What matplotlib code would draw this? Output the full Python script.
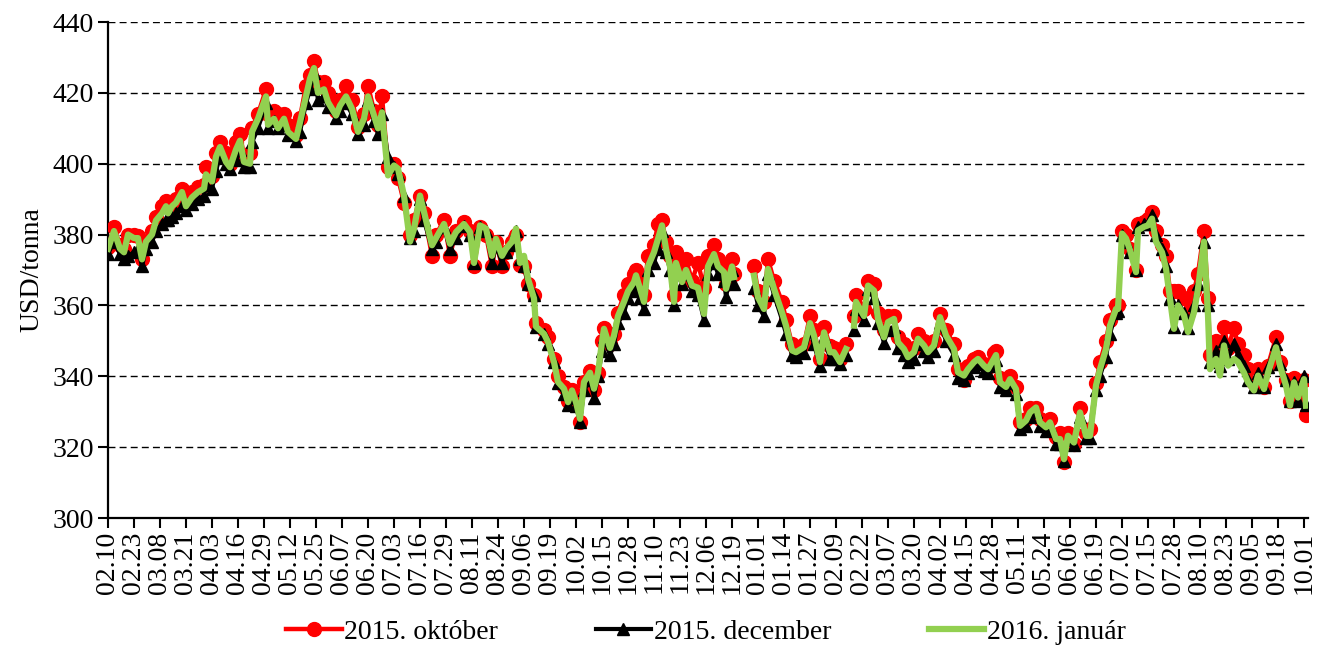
import numpy as np
import pandas as pd
import matplotlib
matplotlib.use("Agg")
import matplotlib.pyplot as plt

# ---------------- data ----------------
start_date = "2014-02-10"

day_offset = [
    0, 3, 6, 8, 10, 13, 15, 17, 19, 22, 24, 27, 29, 30, 32, 34, 37, 39, 42, 45,
    48, 49, 52, 54, 56, 59, 61, 64, 66, 68, 71, 72, 75, 79, 80, 83, 85, 88, 90, 94,
    96, 99, 101, 103, 105, 108, 110, 114, 116, 119, 122, 125, 128, 130, 133, 135, 137, 140, 143, 145,
    148, 151, 153, 156, 158, 162, 164, 168, 171, 174, 178, 181, 183, 186, 189, 192, 194, 197, 199, 202,
    204, 206, 208, 210, 213, 214, 218, 220, 223, 225, 228, 230, 232, 234, 236, 238, 241, 243, 245, 247,
    248, 251, 253, 255, 258, 260, 263, 264, 266, 268, 270, 273, 275, 277, 279, 281, 283, 284, 287, 289,
    292, 295, 298, 300, 303, 305, 308, 309, 312, 313, 317, 323, 325, 328, 330, 333, 337, 339, 342, 344,
    348, 351, 353, 356, 358, 361, 363, 366, 369, 371, 373, 374, 378, 380, 383, 385, 388, 390, 393, 395,
    398, 400, 403, 405, 408, 410, 413, 416, 419, 423, 425, 428, 430, 433, 435, 438, 440, 443, 444, 446,
    449, 451, 454, 456, 459, 461, 464, 466, 469, 471, 474, 476, 478, 480, 483, 486, 489, 491, 494, 496,
    499, 501, 504, 505, 507, 509, 511, 514, 515, 518, 520, 522, 524, 527, 529, 531, 533, 535, 538, 540,
    543, 545, 548, 550, 551, 554, 556, 558, 560, 563, 565, 568, 570, 573, 575, 578, 580, 584, 586, 589,
    591, 593, 595, 598, 599,
]

nan = np.nan

okt_2015 = [
    376.5, 382, 377, 376, 380, 380, 379.5, 373, 378, 381, 385, 388, 389.5, 388, 389, 390, 393, 389, 392, 393.5,
    394, 399, 396.5, 403, 406, 403, 400, 406, 408.5, 402, 403, 410, 414, 421, 414, 415, 414, 414, 411, 408,
    413, 422, 425, 429, 423, 423, 420, 415, 418, 422, 418, 410.5, 414, 422, 415, 411, 419, 399, 400, 396,
    389, 380, 384, 391, 386, 374, 380, 384, 374, 381, 383.5, 381, 371, 382, 380, 371, 378, 371, 375, 378,
    380, 371.5, 371, 366, 363, 355, 353, 351, 345, 340, 337, 333, 336, 333.5, 327, 338.5, 341.5, 336, 341, 350,
    353.5, 349, 352, 358, 363, 366, 369, 370, 367, 363, 374, 377, 383, 384, 378, 374, 363, 375, 370, 373,
    367, 372, 365, 374, 377, 373, 371, 366, 373, 369, nan, 371, 364, 361, 373, 367, 361, 356, 349, 347.5,
    349, 357, 353, 345, 354, 348.5, 348, 345, 349, nan, 357, 363, 359, 367, 366, 358, 353, 357, 357, 351,
    349, 346, 348, 352, 350, 348, 350, 357.5, 353, 349, 342, 339, 343, 345, 345.5, 343.5, 342.5, 346.5, 347, 339.5,
    338, 340, 337, 327, 328, 331, 331, 328, 326, 328, 323, 324, 315.7, 324, 321, 331, 324, 325, 338, 344,
    350, 356, 360, 360, 381, 380, 376, 370, 383, 383.5, 384.5, 386.5, 381, 377, 374, 364, 364, 364, 362, 358,
    364, 369, 381, 362, 346, 350, 346, 354, 348, 353.5, 349, 346, 342, 338, 342, 337, 343, 351, 344, 339,
    333, 339.5, 334.5, 339, 329,
]

dec_2015 = [
    374.5, 378, 374.5, 373, 374, 375, 376, 371, 376, 378, 381, 383, 384, 384, 385, 386, 388, 387, 388.5, 390,
    391, 394, 393, 398, 402, 400, 398.5, 401, 404, 399, 399, 406, 410, 417, 410, 412, 410, 411, 408, 406.5,
    409, 417, 421, 425.5, 418, 419, 416, 413, 415, 417, 414, 408.5, 411, 418, 412, 408.5, 414, 402, 399, 397,
    391, 379, 381, 390, 384, 376, 378, 382, 376, 379, 382.5, 380, 372, 382, 381, 372, 377, 372, 375, 377,
    381, 373, 371, 366, 363, 354, 352, 349, 344, 338, 335, 332, 334, 331.5, 327, 336, 339, 334, 340, 347,
    351, 346, 349, 355, 358, 362, 364, 366, 362, 359, 370, 372, 376, 381, 375, 370, 360, 370, 366, 369,
    364, 363, 356, 369, 372, 369, 367, 362.5, 370, 366, nan, 365, 360, 357, 369, 363, 356, 352, 346, 345.5,
    346.5, 353, 349, 343, 351, 345, 345, 343.5, 346, nan, 353, 359, 356, 364.5, 362, 355, 349.5, 353, 354, 348,
    346, 344, 345, 349, 347, 345.5, 347, 355, 350, 346, 339.5, 339, 341, 342.5, 343.5, 341.5, 341, 343, 344.5, 337,
    336, 338, 335, 325, 326, 328.5, 330, 326, 324.5, 326, 321, 321, 316, 322, 320.5, 328.5, 322.5, 322.5, 336, 340,
    345.5, 352, 358, 358.5, 380, 378, 375, 370, 382, 383, 383, 385.5, 380, 376, 371, 362, 354, 360, 358, 353.5,
    360, 366, 378, 360, 344, 347, 343, 350, 345, 349, 346, 343, 339, 337, 341, 337, 342.5, 349, 343.5, 339,
    333, 338.5, 333, 340, 332,
]

jan_2016 = [
    376, 381, 376, 375, 380, 379, 379, 373, 378, 380, 384, 386, 388, 386, 388, 389, 392, 388, 390.5, 392,
    393, 397, 395, 402, 404.7, 400.5, 399, 404, 406.5, 400.5, 400, 409, 412.7, 419, 411, 412.7, 410, 412.7, 409, 407,
    411.7, 419, 424, 427, 420, 421, 417.4, 413.6, 416.4, 419, 415.5, 409, 412.7, 419, 413.6, 410, 414.5, 396.7, 399.5, 398.6,
    391, 378, 381.6, 391, 386.4, 377, 379, 383, 377.4, 380.7, 383, 380.7, 372, 382.6, 381.7, 374, 378.8, 374, 376, 378,
    381.7, 372, 374, 367.5, 362, 354, 352, 349.7, 344, 338.4, 336.5, 332.7, 336, 332.7, 328, 338.4, 341, 336.5, 341, 349.7,
    353.4, 348, 351.5, 357, 361, 364, 366.6, 368.5, 364.7, 361, 371, 375, 378.8, 382.6, 376, 371, 361, 372, 366.6, 370,
    365.6, 365, 357.6, 371, 374.5, 371, 369.4, 364.7, 371, 368, nan, 368.4, 362.3, 359, 370.3, 364.7, 358, 354.3, 347.3, 346.8,
    348.2, 355, 351.5, 344, 352.4, 346.8, 346.8, 344, 347.7, nan, 354.3, 361, 357, 365.6, 364.2, 356.2, 351, 355.3, 356.2, 349.6,
    347.7, 345.4, 346.8, 350.6, 348.7, 346.8, 348.7, 356.7, 351.5, 347.7, 341.1, 340.2, 342, 344, 344.9, 343, 342, 345, 346, 338.3,
    337, 339.2, 336.4, 326, 327.5, 329.8, 331.2, 327, 325.6, 327, 322.3, 322.3, 316.6, 323.2, 321.3, 329.8, 323.2, 323.2, 337.4, 342,
    347.7, 354.3, 359, 359, 380.3, 378.9, 375.6, 369.4, 381.2, 382.2, 382.6, 384.5, 378, 375, 370.4, 361.9, 353.4, 360, 357.2, 352.5,
    358.1, 364.7, 378, 357.2, 342, 344.9, 340.2, 348.7, 343, 344.9, 344, 341, 338.3, 336, 340.2, 336.4, 341, 348.2, 343, 337.4,
    331.7, 338.3, 334, 339.2, 331.7,
]

series_names = ["2015. október", "2015. december", "2016. január"]

tick_labels = [
    "02.10", "02.23", "03.08", "03.21", "04.03", "04.16", "04.29", "05.12", "05.25", "06.07",
    "06.20", "07.03", "07.16", "07.29", "08.11", "08.24", "09.06", "09.19", "10.02", "10.15",
    "10.28", "11.10", "11.23", "12.06", "12.19", "01.01", "01.14", "01.27", "02.09", "02.22",
    "03.07", "03.20", "04.02", "04.15", "04.28", "05.11", "05.24", "06.06", "06.19", "07.02",
    "07.15", "07.28", "08.10", "08.23", "09.05", "09.18", "10.01",
]
y_label = "USD/tonna"

# ---------------- figure ----------------
plt.rcParams["font.family"] = ["Liberation Serif", "DejaVu Serif"]

fig = plt.figure(figsize=(13.23, 6.48), dpi=100)
ax = fig.add_axes([108 / 1323, 1 - 518 / 648, (1308 - 108) / 1323, (518 - 22) / 648])

start = pd.Timestamp(start_date)
dates = start + pd.to_timedelta(day_offset, unit="D")

ax.plot(dates, np.array(okt_2015, float), color="#FF0000", lw=3.2, marker="o",
        ms=10, mec="#FF0000", mfc="#FF0000", label=series_names[0], zorder=3)
ax.plot(dates, np.array(dec_2015, float), color="black", lw=3.0, marker="^",
        ms=9, mec="black", mfc="black", label=series_names[1], zorder=4)
ax.plot(dates, np.array(jan_2016, float), color="#92D050", lw=4.5,
        label=series_names[2], zorder=5)

ticks = pd.date_range(start, periods=len(tick_labels), freq="13D")
ax.set_xticks(ticks)
ax.set_xticklabels(tick_labels, rotation=90)
ax.set_xlim(start, start + pd.Timedelta(days=600))

ax.set_ylim(300, 440)
ax.set_yticks(np.arange(300, 441, 20))
ax.yaxis.grid(True, linestyle=(0, (5, 3)), color="black", linewidth=1.0)
ax.set_axisbelow(True)

for s in ["top", "right"]:
    ax.spines[s].set_visible(False)
for s in ["left", "bottom"]:
    ax.spines[s].set_linewidth(1.6)

ax.tick_params(axis="both", direction="out", length=7, width=1.5, labelsize=20, pad=3)
ax.set_ylabel(y_label, fontsize=20, labelpad=6)

leg = fig.legend(loc="center", bbox_to_anchor=(706 / 1323, 1 - 632 / 648),
                 ncol=3, frameon=False, fontsize=20, handlelength=2.0,
                 columnspacing=3.5, handletextpad=0.1, numpoints=1)

fig.savefig("out.png", dpi=100)
